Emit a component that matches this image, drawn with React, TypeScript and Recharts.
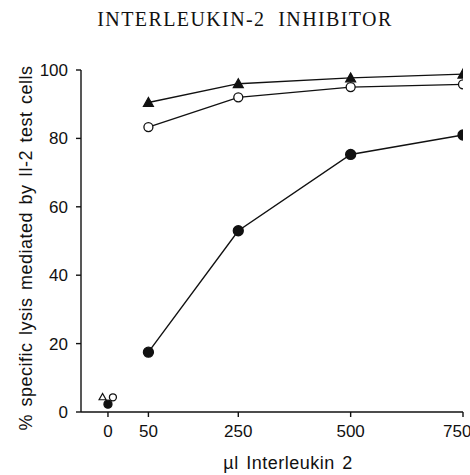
import React from "react";
import { ComposedChart, Line, XAxis, YAxis } from "recharts";

// Doses of interleukin 2 (µl)
const doses = [50, 250, 500, 750];
// % specific lysis for each series
const filledTriangleValues = [90.5, 96, 97.7, 98.8];
const openCircleValues = [83.3, 92, 95, 95.8];
const filledCircleValues = [17.5, 53, 75.3, 81];
// Controls at dose 0 (drawn at the axis break, slightly staggered)
const controlDoseLabel = "0";
const controlPosition = -40;
const controlOffsets = { triangle: -12, filled: 0, circle: 11 };
const controlTriangle = 4.4;
const controlOpenCircle = 4.3;
const controlFilledCircle = 2.3;

const xTicks = [controlPosition, 50, 250, 500, 750];
const yTicks = [0, 20, 40, 60, 80, 100];

const mk = (vals: number[]) => doses.map((d, i) => ({ x: d, y: vals[i] }));
const triData = mk(filledTriangleValues);
const openData = mk(openCircleValues);
const filledData = mk(filledCircleValues);
const ctrlTri = [{ x: controlPosition + controlOffsets.triangle, y: controlTriangle }];
const ctrlOpen = [{ x: controlPosition + controlOffsets.circle, y: controlOpenCircle }];
const ctrlFilled = [{ x: controlPosition + controlOffsets.filled, y: controlFilledCircle }];

const INK = "#111";

const triDot = (filled: boolean, s: number) => (p: any) => {
  const { cx, cy, index } = p;
  if (cx == null || cy == null) return <g key={index} />;
  const pts = `${cx - s},${cy + s * 0.8} ${cx + s},${cy + s * 0.8} ${cx},${cy - s}`;
  return (
    <polygon
      key={index}
      points={pts}
      fill={filled ? INK : "#fff"}
      stroke={INK}
      strokeWidth={1.2}
    />
  );
};

const circDot = (filled: boolean, r: number) => (p: any) => {
  const { cx, cy, index } = p;
  if (cx == null || cy == null) return <g key={index} />;
  return (
    <circle
      key={index}
      cx={cx}
      cy={cy}
      r={r}
      fill={filled ? INK : "#fff"}
      stroke={INK}
      strokeWidth={1.3}
    />
  );
};

const tickStyle = { fontFamily: "Liberation Sans, Arial, sans-serif", fontSize: 17, fill: INK };
const labelStyle = {
  fontFamily: "Liberation Sans, Arial, sans-serif",
  fontSize: 18,
  fill: INK,
  letterSpacing: 0.5,
  wordSpacing: 2,
};

export default function App() {
  return (
    <div style={{ position: "absolute", left: 0, top: 0, width: 470, height: 475, background: "#fff" }}>
      <div
        style={{
          position: "absolute",
          left: 10,
          top: 8,
          width: 470,
          textAlign: "center",
          fontFamily: "Liberation Serif, Times New Roman, serif",
          fontSize: 20,
          letterSpacing: 1.4,
          color: INK,
          whiteSpace: "pre",
        }}
      >
        {"INTERLEUKIN-2  INHIBITOR"}
      </div>
      <ComposedChart width={470} height={475} margin={{ top: 70, right: 7, left: 0, bottom: 0 }}>
        <XAxis
          dataKey="x"
          type="number"
          domain={[-100, 750]}
          ticks={xTicks}
          allowDataOverflow
          tickFormatter={(v: number) => (v === controlPosition ? controlDoseLabel : String(v))}
          height={63}
          stroke={INK}
          strokeWidth={1.4}
          tickSize={5}
          tickMargin={8}
          tick={tickStyle}
          label={{
            content: () => (
              <text x={288} y={469} textAnchor="middle" style={labelStyle}>
                µl Interleukin 2
              </text>
            ),
          }}
        />
        <YAxis
          type="number"
          domain={[0, 100]}
          ticks={yTicks}
          width={81}
          stroke={INK}
          strokeWidth={1.4}
          tickSize={5}
          tickMargin={8}
          tick={tickStyle}
          label={{
            content: () => (
              <text
                x={26}
                y={248}
                transform="rotate(-90 26 248)"
                textAnchor="middle"
                dominantBaseline="central"
                style={labelStyle}
              >
                % specific lysis mediated by Il-2 test cells
              </text>
            ),
          }}
        />
        <Line data={triData} dataKey="y" type="linear" stroke={INK} strokeWidth={1.4} dot={triDot(true, 5)} isAnimationActive={false} />
        <Line data={openData} dataKey="y" type="linear" stroke={INK} strokeWidth={1.4} dot={circDot(false, 4.5)} isAnimationActive={false} />
        <Line data={filledData} dataKey="y" type="linear" stroke={INK} strokeWidth={1.4} dot={circDot(true, 5)} isAnimationActive={false} />
        <Line data={ctrlTri} dataKey="y" stroke="none" dot={triDot(false, 3.5)} isAnimationActive={false} />
        <Line data={ctrlOpen} dataKey="y" stroke="none" dot={circDot(false, 3.5)} isAnimationActive={false} />
        <Line data={ctrlFilled} dataKey="y" stroke="none" dot={circDot(true, 4)} isAnimationActive={false} />
      </ComposedChart>
    </div>
  );
}
